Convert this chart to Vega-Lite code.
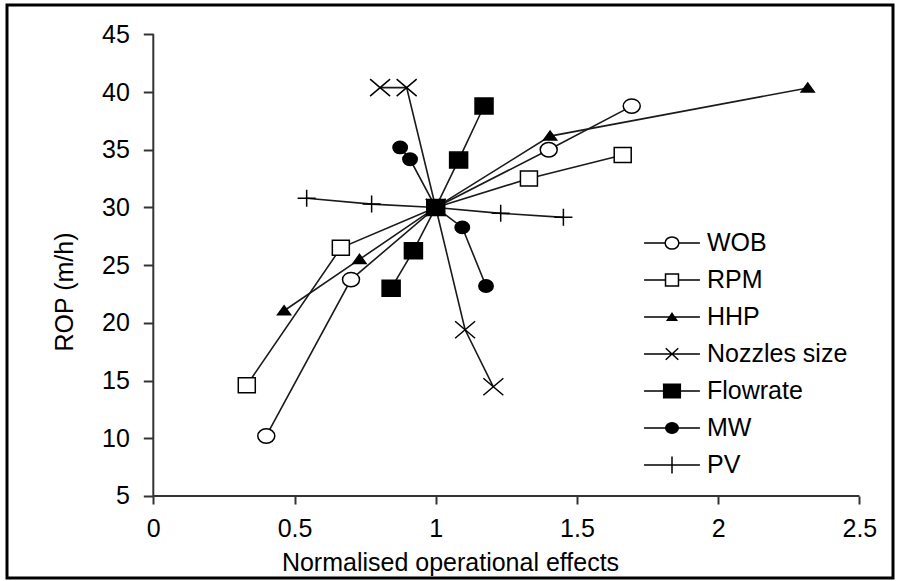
{
  "$schema": "https://vega.github.io/schema/vega-lite/v6.json",
  "width": 886,
  "height": 573,
  "autosize": "none",
  "padding": {"left": 7, "top": 5, "right": 5, "bottom": 3},
  "background": "white",
  "config": {
    "view": {"stroke": "black", "strokeWidth": 3, "fill": "white"},
    "font": "Liberation Sans",
    "axis": {
      "domain": false,
      "grid": false,
      "labelFont": "Liberation Sans",
      "labelFontSize": 25,
      "labelColor": "#000",
      "titleFont": "Liberation Sans",
      "titleFontSize": 25,
      "titleFontWeight": "normal",
      "titleColor": "#000",
      "tickColor": "#333",
      "tickWidth": 2,
      "labelOverlap": false,
      "labelFlush": false
    }
  },
  "data": {
    "values": [
      {"s": "WOB", "x": 0.40, "y": 10.2},
      {"s": "WOB", "x": 0.70, "y": 23.75},
      {"s": "WOB", "x": 1.0, "y": 30.0},
      {"s": "WOB", "x": 1.40, "y": 35.0},
      {"s": "WOB", "x": 1.694, "y": 38.78},
      {"s": "RPM", "x": 0.331, "y": 14.6},
      {"s": "RPM", "x": 0.664, "y": 26.5},
      {"s": "RPM", "x": 1.0, "y": 30.0},
      {"s": "RPM", "x": 1.33, "y": 32.5},
      {"s": "RPM", "x": 1.662, "y": 34.54},
      {"s": "HHP", "x": 0.463, "y": 21.05},
      {"s": "HHP", "x": 0.73, "y": 25.5},
      {"s": "HHP", "x": 1.0, "y": 30.0},
      {"s": "HHP", "x": 1.405, "y": 36.18},
      {"s": "HHP", "x": 2.317, "y": 40.35},
      {"s": "Nozzles size", "x": 0.803, "y": 40.38},
      {"s": "Nozzles size", "x": 0.897, "y": 40.38},
      {"s": "Nozzles size", "x": 1.0, "y": 30.0},
      {"s": "Nozzles size", "x": 1.104, "y": 19.4},
      {"s": "Nozzles size", "x": 1.204, "y": 14.46},
      {"s": "Flowrate", "x": 0.842, "y": 22.99},
      {"s": "Flowrate", "x": 0.921, "y": 26.25},
      {"s": "Flowrate", "x": 1.081, "y": 34.1},
      {"s": "Flowrate", "x": 1.171, "y": 38.79},
      {"s": "MW", "x": 0.874, "y": 35.2},
      {"s": "MW", "x": 0.909, "y": 34.17},
      {"s": "MW", "x": 1.0, "y": 30.0},
      {"s": "MW", "x": 1.094, "y": 28.27},
      {"s": "MW", "x": 1.178, "y": 23.19},
      {"s": "PV", "x": 0.543, "y": 30.79},
      {"s": "PV", "x": 0.773, "y": 30.29},
      {"s": "PV", "x": 1.0, "y": 30.0},
      {"s": "PV", "x": 1.23, "y": 29.49},
      {"s": "PV", "x": 1.452, "y": 29.14},
      {"s": "Flowrate", "x": 1.0, "y": 30.0}
    ]
  },
  "encoding": {
    "x": {
      "field": "x",
      "type": "quantitative",
      "scale": {"domain": [-0.518, 2.619], "nice": false, "zero": false},
      "axis": {
        "values": [0, 0.5, 1, 1.5, 2, 2.5],
        "format": "~g",
        "offset": -82,
        "tickSize": 8,
        "labelPadding": 12,
        "labelAngle": 0,
        "title": "Normalised operational effects",
        "titlePadding": 9
      }
    },
    "y": {
      "field": "y",
      "type": "quantitative",
      "scale": {"domain": [-2.106, 47.54], "nice": false, "zero": false},
      "axis": {
        "values": [5, 10, 15, 20, 25, 30, 35, 40, 45],
        "offset": -146.3,
        "tickSize": 10,
        "labelPadding": 14,
        "title": "ROP (m/h)",
        "titlePadding": 24
      }
    }
  },
  "layer": [
    {
      "data": {
        "values": [
          {"x": 0, "x2": 2.5, "y": 5, "y2": 5},
          {"x": 0, "x2": 0, "y": 5, "y2": 45}
        ]
      },
      "mark": {"type": "rule", "color": "#333", "strokeWidth": 2},
      "encoding": {
        "x2": {"field": "x2"},
        "y2": {"field": "y2"}
      }
    },
    {
      "mark": {"type": "line", "color": "#1a1a1a", "strokeWidth": 1.6},
      "encoding": {
        "detail": {"field": "s", "type": "nominal"}
      }
    },
    {
      "mark": {"type": "point", "filled": true, "stroke": "black", "strokeWidth": 1.5, "size": 400, "opacity": 1},
      "encoding": {
        "shape": {
          "field": "s",
          "type": "nominal",
          "sort": ["WOB", "RPM", "HHP", "Nozzles size", "Flowrate", "MW", "PV"],
          "scale": {
            "range": [
              "M-0.85,0A0.85,0.72,0,1,0,0.85,0A0.85,0.72,0,1,0,-0.85,0Z",
              "M-0.85,-0.75L0.85,-0.75L0.85,0.75L-0.85,0.75Z",
              "M0,-0.5L0.65,0.4L-0.65,0.4Z",
              "M-1,-0.85L1,0.85M-1,0.85L1,-0.85",
              "M-0.9,-0.8L0.9,-0.8L0.9,0.8L-0.9,0.8Z",
              "M-0.72,0A0.72,0.62,0,1,0,0.72,0A0.72,0.62,0,1,0,-0.72,0Z",
              "M-0.9,0L0.9,0M0,-0.85L0,0.85"
            ]
          },
          "legend": null
        },
        "fill": {
          "field": "s",
          "type": "nominal",
          "scale": {
            "domain": ["WOB", "RPM", "HHP", "Nozzles size", "Flowrate", "MW", "PV"],
            "range": ["white", "white", "black", "white", "black", "black", "white"]
          },
          "legend": {
            "title": null,
            "orient": "none",
            "legendX": 645.5,
            "legendY": 218.5,
            "padding": 0,
            "symbolSize": 1369,
            "labelFont": "Liberation Sans",
            "labelFontSize": 25,
            "labelColor": "black",
            "labelOffset": 15.5,
            "labelLimit": 400,
            "rowPadding": 4,
            "symbolStrokeColor": "black",
            "symbolStrokeWidth": 1.5,
            "symbolOpacity": 1,
            "encode": {
              "symbols": {
                "update": {
                  "shape": {
                    "signal": "datum.value==='WOB'?'M-1.51,0L-0.37,0M0.37,0L1.51,0M-0.37,0A0.37,0.33,0,1,0,0.37,0A0.37,0.33,0,1,0,-0.37,0Z':datum.value==='RPM'?'M-1.51,0L-0.35,0M0.35,0L1.51,0M-0.35,-0.33L0.35,-0.33L0.35,0.33L-0.35,0.33Z':datum.value==='HHP'?'M-1.51,0L1.51,0M0,-0.2L0.25,0.18L-0.25,0.18Z':datum.value==='Nozzles size'?'M-1.51,0L1.51,0M-0.34,-0.31L0.34,0.31M-0.34,0.31L0.34,-0.31':datum.value==='Flowrate'?'M-1.51,0L1.51,0M-0.45,-0.36L0.45,-0.36L0.45,0.36L-0.45,0.36Z':datum.value==='MW'?'M-1.51,0L1.51,0M-0.34,0A0.34,0.29,0,1,0,0.34,0A0.34,0.29,0,1,0,-0.34,0Z':'M-1.51,0L1.51,0M0,-0.46L0,0.46'"
                  },
                  "stroke": {"value": "black"},
                  "strokeWidth": {"value": 1.5},
                  "opacity": {"value": 1}
                }
              }
            }
          }
        }
      }
    }
  ]
}
